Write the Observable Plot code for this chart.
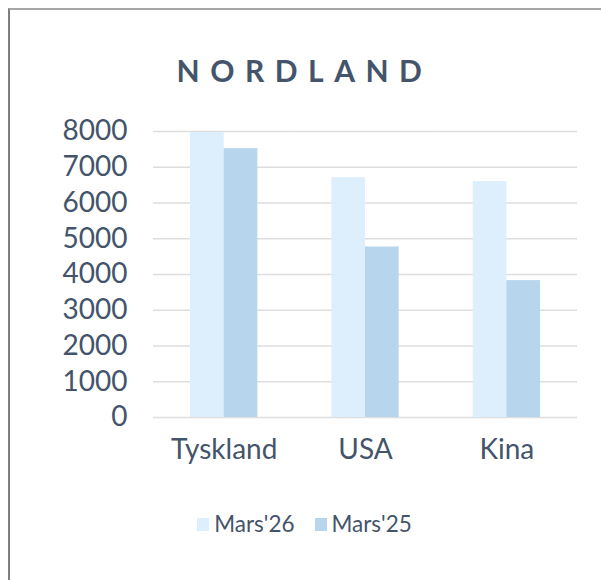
<!DOCTYPE html>
<html>
<head>
<meta charset="utf-8">
<script src="https://cdn.jsdelivr.net/npm/d3@7"></script>
<script src="https://cdn.jsdelivr.net/npm/@observablehq/plot@0.6"></script>
<style>
  html, body { margin: 0; padding: 0; background: #fff; }
  body { width: 601px; height: 580px; position: relative; overflow: hidden; font-family: Lato, "Open Sans", sans-serif; }
  #frame { position: absolute; left: 8px; top: 8px; width: 700px; height: 700px;
           border-top: 2px solid #a6a6a6; border-left: 2px solid #7f7f7f; box-sizing: border-box; }
  #title { position: absolute; left: 8px; width: 593px; top: 52px; text-align: center;
           font: bold 30px Lato, sans-serif; letter-spacing: 10.5px; color: #44546A; line-height: 36px; }
  #chart { position: absolute; left: 0; top: 100px; }
  #legend { position: absolute; left: 8px; width: 593px; top: 504px; display: flex; justify-content: center;
            gap: 20px; font: 22.5px Lato, sans-serif; color: #44546A; line-height: 40px; }
  .item { display: flex; align-items: center; }
  .sw { width: 12px; height: 13px; margin-right: 5px; }
</style>
</head>
<body>
<div id="frame"></div>
<div id="title">NORDLAND</div>
<div id="chart"></div>
<div id="legend"></div>
<script>
const countries = ["Tyskland", "USA", "Kina"];
const seriesNames = ["Mars'26", "Mars'25"];
const mars26 = [7970, 6710, 6600];
const mars25 = [7520, 4770, 3830];
const yTicks = [0, 1000, 2000, 3000, 4000, 5000, 6000, 7000, 8000];
const colors = ["#DDEEFC", "#B8D5EE"];

const data = [];
countries.forEach((c, i) => {
  data.push({country: c, series: seriesNames[0], value: mars26[i]});
  data.push({country: c, series: seriesNames[1], value: mars25[i]});
});

const chart = Plot.plot({
  width: 601,
  height: 367,
  marginTop: 31,
  marginBottom: 50,
  marginLeft: 153,
  marginRight: 24,
  style: {fontFamily: "Lato, sans-serif", fontSize: "28px", color: "#44546A", background: "transparent"},
  fx: {domain: countries, padding: 0, round: false, label: null, axis: "bottom", tickSize: 0, tickPadding: 22},
  x: {domain: seriesNames, paddingInner: 0, paddingOuter: 1.1, round: false, axis: null},
  y: {domain: [0, 8000], ticks: yTicks, label: null, tickSize: 0, tickPadding: 26, tickFormat: d => String(d)},
  color: {domain: seriesNames, range: colors},
  marks: [
    Plot.ruleY(yTicks, {stroke: "#dedede", strokeWidth: 1.5}),
    Plot.barY(data, {fx: "country", x: "series", y: "value", fill: "series", inset: 0})
  ]
});
document.getElementById("chart").appendChild(chart);

const legend = document.getElementById("legend");
seriesNames.forEach((s, i) => {
  const item = document.createElement("div");
  item.className = "item";
  const sw = document.createElement("div");
  sw.className = "sw";
  sw.style.background = colors[i];
  const t = document.createElement("span");
  t.textContent = s;
  item.appendChild(sw);
  item.appendChild(t);
  legend.appendChild(item);
});
</script>
</body>
</html>
